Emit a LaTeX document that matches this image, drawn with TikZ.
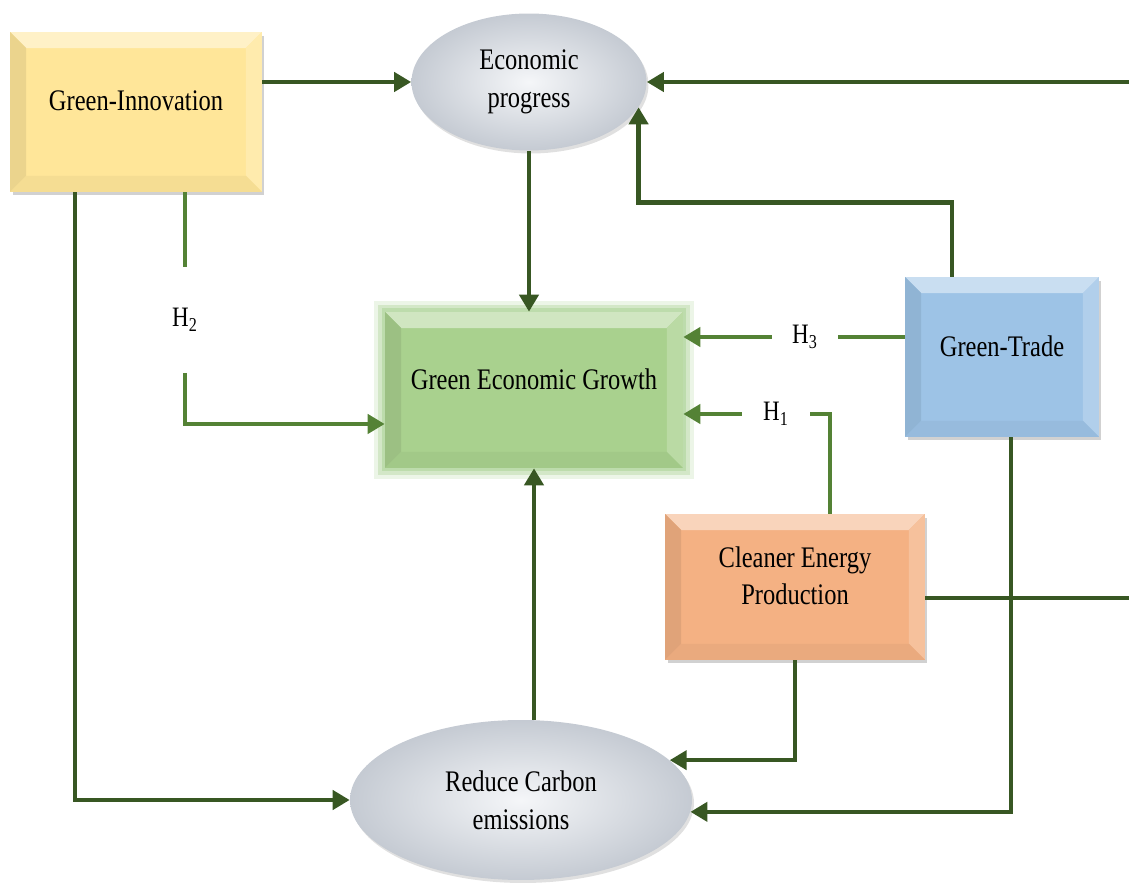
\documentclass[tikz,border=0pt]{standalone}
\usepackage{fontspec}
\setmainfont{Liberation Serif}[FakeStretch=0.82]
\usetikzlibrary{shapes.geometric, arrows.meta, positioning, shadows, calc}

\definecolor{linegreen}{RGB}{56,87,35}
\definecolor{hgreen}{RGB}{84,130,53}
\definecolor{boxyellow}{RGB}{255,230,153}
\definecolor{boxgreen}{RGB}{169,209,142}
\definecolor{boxblue}{RGB}{157,195,230}
\definecolor{boxorange}{RGB}{244,177,131}
\definecolor{ovalgray}{RGB}{214,220,229}
\definecolor{glowgreen}{RGB}{180,215,160}

% bevelled faces of a box, drawn inside its path picture
\newcommand{\bevelfaces}[2]{%
  \coordinate (bNW) at (path picture bounding box.north west);
  \coordinate (bNE) at (path picture bounding box.north east);
  \coordinate (bSW) at (path picture bounding box.south west);
  \coordinate (bSE) at (path picture bounding box.south east);
  \fill[#1!55!white] (bNW) -- (bNE) -- ([shift={(-#2,-#2)}]bNE) -- ([shift={(#2,-#2)}]bNW) -- cycle;
  \fill[#1!92!black] (bNW) -- (bSW) -- ([shift={(#2,#2)}]bSW) -- ([shift={(#2,-#2)}]bNW) -- cycle;
  \fill[#1!80!white] (bNE) -- (bSE) -- ([shift={(-#2,#2)}]bSE) -- ([shift={(-#2,-#2)}]bNE) -- cycle;
  \fill[#1!96!black] (bSW) -- (bSE) -- ([shift={(-#2,#2)}]bSE) -- ([shift={(#2,#2)}]bSW) -- cycle;
}

\begin{document}
\begin{tikzpicture}[
    x=0.02cm, y=-0.02cm,
    every node/.style={font=\fontsize{17}{21.5}\selectfont},
    box/.style={rectangle, fill=#1, align=center, text depth=0.45cm, path picture={\bevelfaces{#1}{0.32cm}}},
    shadowed/.style={drop shadow={shadow xshift=0.05cm, shadow yshift=-0.07cm, opacity=0.3, fill=black!60}},
    glow/.style={preaction={draw=glowgreen, line width=13pt, opacity=0.25},
                 preaction={draw=glowgreen, line width=8pt, opacity=0.45},
                 preaction={draw=glowgreen, line width=4pt, opacity=0.7}},
    oval/.style={ellipse, shading=radial, inner color=ovalgray!25!white, outer color=ovalgray!92!black, align=center,
                 drop shadow={shadow xshift=0.04cm, shadow yshift=-0.06cm, opacity=0.2, fill=black!60}},
    arrow/.style={-{Triangle[length=0.34cm, width=0.38cm]}, line width=2.6pt, linegreen},
    link/.style={line width=2.6pt, linegreen},
    harrow/.style={-{Triangle[length=0.34cm, width=0.38cm]}, line width=2.8pt, hgreen},
    hlink/.style={line width=2.8pt, hgreen},
    hyp/.style={font=\fontsize{16}{18}\selectfont, inner sep=0pt}
]
\useasboundingbox (0,0) rectangle (1129,884);

% main blocks
\node (gi) [box=boxyellow, shadowed, minimum width=5.04cm, minimum height=3.2cm] at (136,112) {Green-Innovation};
\node (ep) [oval, minimum width=4.7cm, minimum height=2.74cm] at (529,82) {Economic\\progress};
\node (geg) [box=boxgreen, glow, minimum width=5.96cm, minimum height=3.12cm] at (534,390) {Green Economic Growth};
\node (gt) [box=boxblue, shadowed, minimum width=3.88cm, minimum height=3.2cm] at (1002,357) {Green-Trade};
\node (ce) [box=boxorange, shadowed, minimum width=5.2cm, minimum height=2.92cm] at (795,587) {Cleaner Energy\\Production};
\node (rc) [oval, minimum width=6.84cm, minimum height=3.2cm] at (521,800) {Reduce Carbon\\emissions};

% hypotheses
\node (h3) [hyp, minimum width=1.32cm] at (805,337) {H\textsubscript{3}};
\node (h1) [hyp, minimum width=1.36cm] at (776,414) {H\textsubscript{1}};
\node (h2) [hyp, minimum height=2.1cm] at (185,320) {H\textsubscript{2}};

\coordinate (rim) at (1129,0);

% connectors
\draw [arrow] (gi.east |- ep.west) -- (ep.west);
\draw [arrow] (rim |- ep.east) -- (ep.east);
\draw [arrow] ([xshift=-1cm]gt.north) -- ++(0,-74) -| (ep.-13.5);
\draw [arrow] (ep.south) -- (ep.south |- geg.north);
\draw [hlink] (gt.west |- h3) -- (h3.east);
\draw [harrow] (h3.west) -- (h3.west -| geg.east);
\draw [hlink] ([xshift=0.7cm]ce.north) |- (h1.east);
\draw [harrow] (h1.west) -- (h1.west -| geg.east);
\draw [hlink] (gi.south -| h2) -- (h2.north);
\draw [harrow] (h2.south) |- ([yshift=-0.68cm]geg.west);
\draw [arrow] ([xshift=-1.22cm]gi.south) |- (rc.west);
\draw [arrow] (rc.north -| geg.south) -- (geg.south);
\draw [arrow] (ce.south) |- (rc.15);
\draw [arrow] ([xshift=0.18cm]gt.south) |- (rc.-4);
\draw [link] ([yshift=-0.22cm]ce.east) -- ([yshift=-0.22cm]ce.east -| rim);
\end{tikzpicture}
\end{document}
